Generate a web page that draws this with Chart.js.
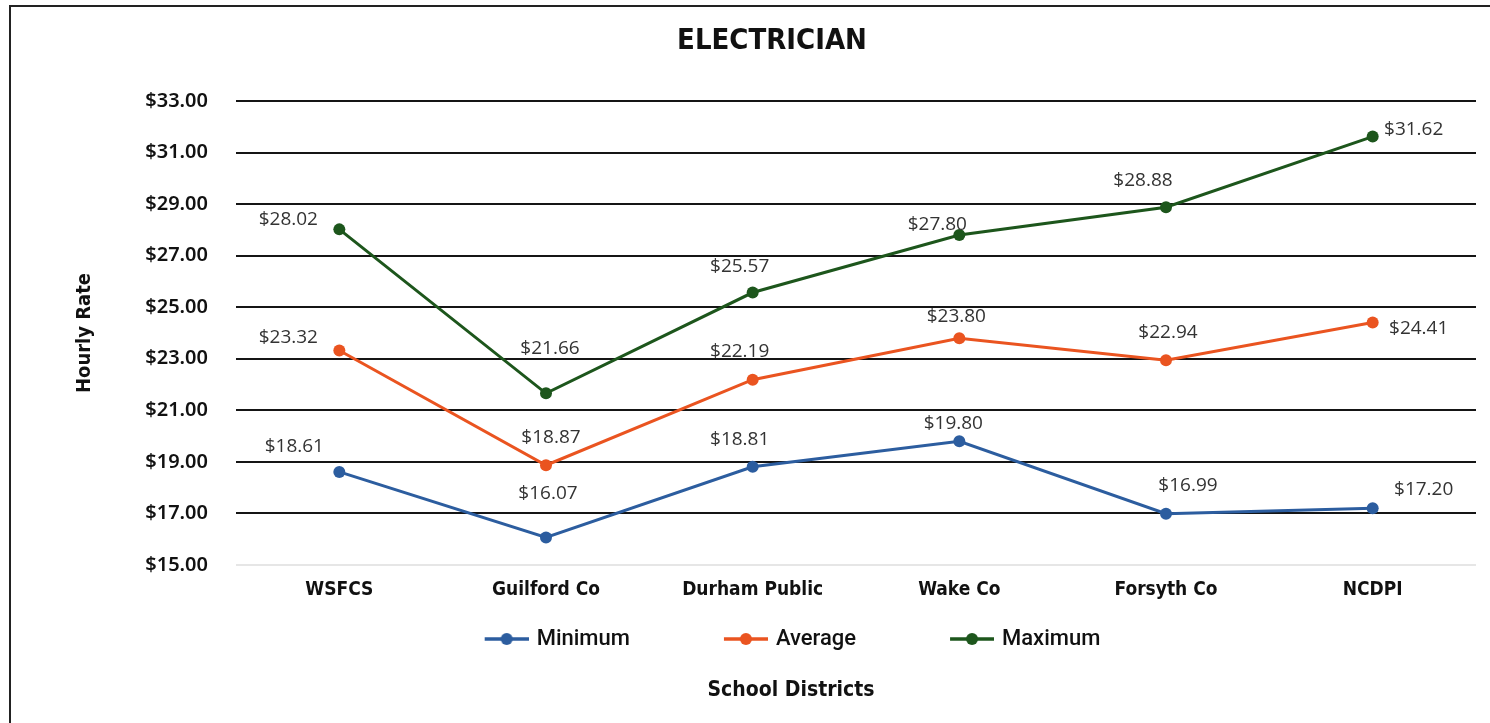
<!DOCTYPE html>
<html>
<head>
<meta charset="utf-8">
<title>Electrician</title>
<script src="https://cdn.jsdelivr.net/npm/chart.js@4"></script>
<style>
  body { margin: 0; background: #fff; }
  #wrap { position: relative; width: 1490px; height: 723px; overflow: hidden; }
  #frame { position: absolute; left: 9px; top: 5px; width: 1600px; height: 800px; border: 2px solid #222; box-sizing: border-box; pointer-events: none; }
</style>
</head>
<body>
<div id="wrap">
  <canvas id="out" width="1490" height="723"></canvas>
  <div id="frame"></div>
</div>
<script>
const districts = ["WSFCS", "Guilford Co", "Durham Public", "Wake Co", "Forsyth Co", "NCDPI"];
const minimum = [18.61, 16.07, 18.81, 19.80, 16.99, 17.20];
const average = [23.32, 18.87, 22.19, 23.80, 22.94, 24.41];
const maximum = [28.02, 21.66, 25.57, 27.80, 28.88, 31.62];
const yTicks = [15, 17, 19, 21, 23, 25, 27, 29, 31, 33];

// where each value label sits relative to its point [dx, dy]
const minLabelPos = [[-45, -25], [2, -44], [-13, -27], [-6, -18], [22, -28], [51, -19]];
const avgLabelPos = [[-51, -13], [5, -28], [-13, -28], [-3, -22], [2, -28], [46, 6]];
const maxLabelPos = [[-51, -10], [4, -45], [-13, -26], [-22, -10], [-23, -27], [41, -7]];

const condensed = "'Liberation Sans Narrow', 'DejaVu Sans Condensed', Roboto, sans-serif";

function money(v) {
    return "$" + Number(v).toFixed(2);
}

// legend marker: short line with a dot, left part left blank for spacing
// (a bit wider than the legend box so the marker sits closer to its text)
function legendMarker(color) {
    const c = document.createElement("canvas");
    c.width = 126;
    c.height = 14;
    const g = c.getContext("2d");
    g.strokeStyle = color;
    g.lineWidth = 3.5;
    g.beginPath();
    g.moveTo(82, 7);
    g.lineTo(126, 7);
    g.stroke();
    g.fillStyle = color;
    g.beginPath();
    g.arc(104, 7, 6, 0, Math.PI * 2);
    g.fill();
    return c;
}

const valueLabels = {
    id: "valueLabels",
    afterDatasetsDraw(chart) {
        const ctx = chart.ctx;
        ctx.save();
        ctx.font = "19px 'Open Sans', sans-serif";
        ctx.fillStyle = "#333";
        ctx.textAlign = "center";
        ctx.textBaseline = "middle";
        chart.data.datasets.forEach((ds, i) => {
            const meta = chart.getDatasetMeta(i);
            meta.data.forEach((pt, j) => {
                const off = ds.labelPos[j];
                ctx.fillText(money(ds.data[j]), pt.x + off[0], pt.y + off[1]);
            });
        });
        ctx.restore();
    }
};

// nudge the title, legend and x title sideways like in the original
const boxShift = {
    id: "boxShift",
    afterLayout(chart) {
        chart.boxes.forEach(b => {
            let dx = 0;
            if (b === chart.legend) dx = 15;
            else if (b.options && b.options.text === "ELECTRICIAN") dx = 34;
            else if (b.options && b.options.text === "School Districts") dx = 53;
            b.left += dx;
            b.right += dx;
        });
    }
};

const series = [
    { label: "Minimum", data: minimum, color: "#2c5d9f", labelPos: minLabelPos },
    { label: "Average", data: average, color: "#ea5420", labelPos: avgLabelPos },
    { label: "Maximum", data: maximum, color: "#1d561c", labelPos: maxLabelPos }
];

const chartConfig = {
    type: "line",
    data: {
        labels: districts,
        datasets: series.map(s => ({
            label: s.label,
            data: s.data,
            labelPos: s.labelPos,
            marker: legendMarker(s.color),
            borderColor: s.color,
            backgroundColor: s.color,
            borderWidth: 3,
            pointRadius: 6,
            pointBorderWidth: 0,
            pointStyle: "circle",
            tension: 0
        }))
    },
    options: {
        responsive: false,
        animation: false,
        layout: { padding: { left: 0, right: 14, top: 0, bottom: 0 } },
        scales: {
            x: {
                offset: true,
                grid: { display: false, drawTicks: false },
                border: { display: false },
                afterFit(scale) { scale.height = 48; },
                ticks: {
                    padding: 14,
                    color: "#111",
                    font: { family: condensed, size: 19, weight: "bold" }
                }
            },
            y: {
                min: 15,
                max: 33,
                afterFit(scale) { scale.width = 236; },
                afterBuildTicks(scale) { scale.ticks = yTicks.map(v => ({ value: v })); },
                border: { display: false },
                grid: {
                    drawTicks: false,
                    lineWidth: 2,
                    color: c => (c.tick && c.tick.value === 15 ? "#e6e6e6" : "#151515")
                },
                ticks: {
                    padding: 28,
                    color: "#111",
                    font: { family: "'Noto Sans', sans-serif", size: 20, weight: "600" },
                    callback: v => money(v)
                },
                title: {
                    display: true,
                    text: "Hourly Rate",
                    color: "#111",
                    padding: { top: 73, bottom: 0 },
                    font: { family: condensed, size: 20, weight: "bold" }
                }
            }
        },
        plugins: {
            title: {
                display: true,
                text: "ELECTRICIAN",
                color: "#111",
                padding: { top: 23.6, bottom: 42.6 },
                font: { family: condensed, size: 29, weight: "bold" }
            },
            subtitle: {
                display: true,
                position: "bottom",
                text: "School Districts",
                color: "#111",
                padding: { top: 18.4, bottom: 19.4 },
                font: { family: condensed, size: 21, weight: "bold" }
            },
            legend: {
                position: "bottom",
                labels: {
                    usePointStyle: true,
                    pointStyleWidth: 120,
                    padding: 15,
                    color: "#111",
                    font: { family: "Roboto, sans-serif", size: 22, weight: "500" },
                    generateLabels(chart) {
                        const items = Chart.defaults.plugins.legend.labels.generateLabels(chart);
                        items.forEach(it => {
                            it.pointStyle = chart.data.datasets[it.datasetIndex].marker;
                        });
                        return items;
                    }
                }
            },
            tooltip: { enabled: false }
        }
    },
    plugins: [valueLabels, boxShift]
};

const canvasCtx = document.getElementById("out").getContext("2d");
window.chart = new Chart(canvasCtx, chartConfig);
</script>
</body>
</html>
